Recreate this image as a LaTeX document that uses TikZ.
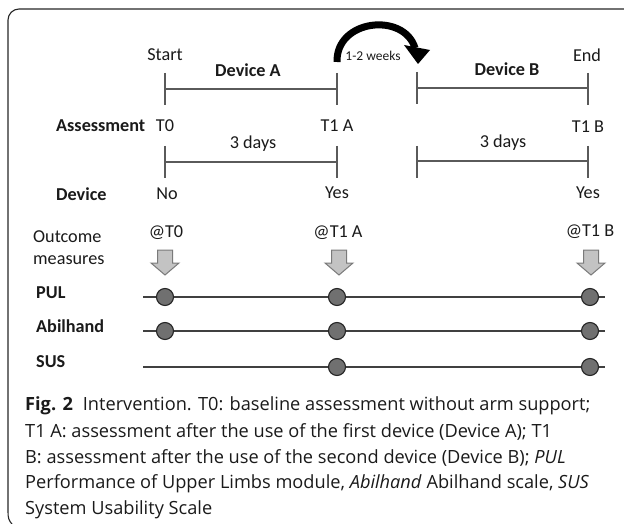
\documentclass[tikz,border=0pt]{standalone}
\usepackage{fontspec}
\setmainfont{Carlito}
\newfontfamily\capfont{Open Sans}
\definecolor{linegray}{HTML}{5A5A5A}
\definecolor{dotgray}{HTML}{707070}
\definecolor{arrowfill}{HTML}{C3C3C3}
\definecolor{arrowedge}{HTML}{7A7A7A}
\definecolor{txt}{HTML}{1A1A1A}
\tikzset{
  lbl/.style={font=\fontsize{18.2}{21}\selectfont, text=txt, inner sep=0pt},
  blbl/.style={font=\fontsize{18.2}{21}\selectfont\bfseries, text=txt, inner sep=0pt},
  small/.style={font=\fontsize{13.5}{15}\selectfont, text=txt, inner sep=0pt},
  capline/.style={font=\capfont\fontsize{18.2}{22}\selectfont, text=txt, inner sep=0pt, anchor=west},
  tl/.style={draw=linegray, line width=1.3pt},
  rowline/.style={draw=black!75, line width=1.2pt},
  dot/.style={circle, draw=black!85, fill=dotgray, line width=1.1pt, minimum size=17pt, inner sep=0pt},
  barrow/.pic={\draw[draw=arrowedge, fill=arrowfill, line width=1pt, line join=miter]
     (-7.5,-12.5) -- (7.5,-12.5) -- (7.5,0.5) -- (14,0.5) -- (0,12.5) -- (-14,0.5) -- (-7.5,0.5) -- cycle;}
}
\begin{document}
\begin{tikzpicture}[x=1pt,y=-1pt]
\useasboundingbox (0,0) rectangle (624,524);
% frame
\draw[black!85, line width=1.1pt] (12,524) .. controls (9,521) and (8,518) .. (8,512) -- (8,20) arc[start angle=180, end angle=270, radius=11] -- (624,9);

% top row
\node[lbl] (start) at (165,55) {Start};
\node[lbl] (end) at (587,55) {End};
\node[blbl] (devA) at (248,70) {Device A};
\node[blbl] (devB) at (507,69) {Device B};
\coordinate (a1t) at (165,73); \coordinate (a1b) at (165,105);
\coordinate (a2t) at (337,73); \coordinate (a2b) at (337,105);
\coordinate (a3t) at (417,72); \coordinate (a3b) at (417,104);
\coordinate (a4t) at (588,73); \coordinate (a4b) at (588,105);
\draw[tl] (a1t) -- (a1b); \draw[tl] (a2t) -- (a2b);
\draw[tl] (a3t) -- (a3b); \draw[tl] (a4t) -- (a4b);
\draw[tl] (165,89) -- (337,89);
\draw[tl] (417,88) -- (588,88);

% curved arrow
\draw[black, line width=7pt] (337,62) .. controls (336,19) and (404,12) .. (415,48);
\fill[black] (404,45) -- (430,50) -- (418,64) -- cycle;
\node[small] (weeks) at (373,56) {1-2 weeks};

% assessment row
\node[blbl, anchor=west] (assess) at (56,126) {Assessment};
\node[lbl] (t0) at (165,126) {T0};
\node[lbl] (t1a) at (337,126) {T1 A};
\node[lbl] (t1b) at (588,127) {T1 B};
\node[lbl] (d1) at (253,144) {3 days};
\node[lbl] (d2) at (503,143) {3 days};
\coordinate (b1t) at (165,146); \coordinate (b1b) at (165,178);
\coordinate (b2t) at (337,146); \coordinate (b2b) at (337,178);
\coordinate (b3t) at (417,146); \coordinate (b3b) at (417,178);
\coordinate (b4t) at (588,146); \coordinate (b4b) at (588,178);
\draw[tl] (b1t) -- (b1b); \draw[tl] (b2t) -- (b2b);
\draw[tl] (b3t) -- (b3b); \draw[tl] (b4t) -- (b4b);
\draw[tl] (165,162) -- (337,162);
\draw[tl] (417,161) -- (588,161);

% device row
\node[blbl, anchor=west] (device) at (56,194) {Device};
\node[lbl] (no) at (167,194) {No};
\node[lbl] (yes1) at (337,193) {Yes};
\node[lbl] (yes2) at (588,193) {Yes};

% outcome measures
\node[lbl, anchor=west] (outc) at (33,237) {Outcome};
\node[lbl, anchor=west] (meas) at (33,260) {measures};
\node[lbl] (at0) at (166,233) {@T0};
\node[lbl] (at1a) at (338,233) {@T1 A};
\node[lbl] (at1b) at (590,232) {@T1 B};
\pic at (165,262.5) {barrow};
\pic at (339,262.5) {barrow};
\pic at (591,262.5) {barrow};

% rows
\node[blbl, anchor=west] (pul) at (36,293) {PUL};
\node[blbl, anchor=west] (abil) at (36,326) {Abilhand};
\node[blbl, anchor=west] (sus) at (36,362) {SUS};
\coordinate (p0) at (143,297); \coordinate (p9) at (605,297);
\coordinate (q0) at (143,331); \coordinate (q9) at (605,331);
\coordinate (r0) at (143,367); \coordinate (r9) at (605,367);
\draw[rowline] (p0) -- (p9);
\draw[rowline] (q0) -- (q9);
\draw[rowline] (r0) -- (r9);
\node[dot] (p1) at (165,297) {};
\node[dot] (p2) at (337,297) {};
\node[dot] (p3) at (590,297) {};
\node[dot] (q1) at (165,331) {};
\node[dot] (q2) at (337,331) {};
\node[dot] (q3) at (590,331) {};
\node[dot] (r2) at (337,367) {};
\node[dot] (r3) at (590,367) {};

% caption
\node[capline] (c1) at (25,406) {\textbf{Fig. 2}\hspace{0.55em}Intervention. T0: baseline assessment without arm support;};
\node[capline] (c2) at (25,432) {T1 A: assessment after the use of the first device (Device A); T1};
\node[capline] (c3) at (25,458) {B: assessment after the use of the second device (Device B); \textit{PUL}};
\node[capline] (c4) at (25,484) {Performance of Upper Limbs module, \textit{Abilhand} Abilhand scale, \textit{SUS}};
\node[capline] (c5) at (25,510) {System Usability Scale};
\end{tikzpicture}
\end{document}
